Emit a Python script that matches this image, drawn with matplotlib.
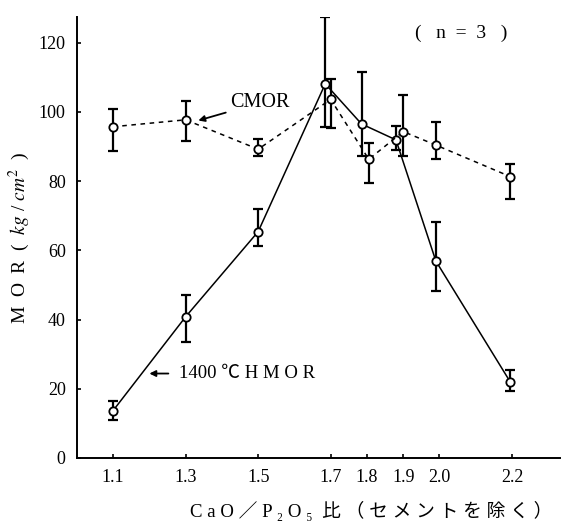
import matplotlib
matplotlib.use("Agg")
import matplotlib.pyplot as plt

# Datos
ticks_x = [1.1, 1.3, 1.5, 1.7, 1.8, 1.9, 2.0, 2.2]
tick_labels_x = ["1.1", "1.3", "1.5", "1.7", "1.8", "1.9", "2.0", "2.2"]
ticks_y = [0, 20, 40, 60, 80, 100, 120]

# 1400℃ HMOR (línea continua)
hmor_x = [1.1, 1.3, 1.5, 1.685, 1.785, 1.88, 1.99, 2.195]
hmor_y = [13.7, 40.8, 65.4, 108.1, 96.5, 91.9, 56.9, 22.0]
hmor_lo = [11.0, 33.6, 61.1, 95.7, 87.1, 89.0, 48.1, 19.3]
hmor_hi = [16.5, 47.1, 71.9, 127.3, 111.6, 95.9, 68.3, 25.5]

# CMOR (línea discontinua)
cmor_x = [1.1, 1.3, 1.5, 1.70, 1.805, 1.90, 1.99, 2.195]
cmor_y = [95.7, 97.7, 89.2, 103.6, 86.3, 94.3, 90.4, 81.3]
cmor_lo = [88.7, 91.7, 87.1, 95.3, 79.4, 87.1, 86.4, 74.7]
cmor_hi = [100.8, 103.1, 92.1, 109.4, 90.9, 104.9, 97.0, 84.9]

serif = ["Liberation Serif", "Noto Sans CJK JP", "DejaVu Sans"]
plt.rcParams["mathtext.fontset"] = "stix"

fig = plt.figure(figsize=(5.61, 5.23), dpi=100)
ax = fig.add_axes([0.137, 0.1243, 0.861, 0.8432])


def errores(y, lo, hi):
    return [[v - l for v, l in zip(y, lo)], [h - v for v, h in zip(y, hi)]]


# Barras de error
ax.errorbar(hmor_x, hmor_y, yerr=errores(hmor_y, hmor_lo, hmor_hi), fmt="none",
            ecolor="black", elinewidth=1.6, capsize=3.5, capthick=1.6, zorder=2)
ax.errorbar(cmor_x, cmor_y, yerr=errores(cmor_y, cmor_lo, cmor_hi), fmt="none",
            ecolor="black", elinewidth=1.6, capsize=3.5, capthick=1.6, zorder=2)

# Curvas
ax.plot(hmor_x, hmor_y, color="black", lw=1.1, marker="o", ms=6,
        mfc="white", mec="black", mew=1.3, zorder=3)
ax.plot(cmor_x, cmor_y, color="black", lw=1.1, ls=(0, (3, 3)), marker="o", ms=6,
        mfc="white", mec="black", mew=1.3, zorder=3)

# Ejes
ax.set_xlim(1.0, 2.332)
ax.set_ylim(0, 127.4)
ax.set_xticks(ticks_x)
ax.set_xticklabels(tick_labels_x)
ax.set_yticks(ticks_y)
ax.spines["top"].set_visible(False)
ax.spines["right"].set_visible(False)
ax.spines["left"].set_linewidth(1.4)
ax.spines["bottom"].set_linewidth(1.4)
ax.tick_params(direction="in", length=3, width=1.2, labelsize=13, pad=8)
for lab in ax.get_xticklabels() + ax.get_yticklabels():
    lab.set_family(serif)

ax.set_ylabel("M  O  R  (  $\\mathit{kg}$ / $\\mathit{cm^2}$  )", fontsize=14,
              family=serif, labelpad=5)
ax.set_xlabel("C a O ／ P ₂ O ₅  比 （ セ メ ン ト を 除 く ）", fontsize=13.5,
              family=serif, labelpad=11, x=0.61)

# Anotaciones
ax.text(2.06, 122.8, "(   n  =  3   )", fontsize=14, family=serif,
        ha="center", va="center")
ax.annotate("CMOR", xy=(1.335, 97.5), xytext=(1.422, 102.6), fontsize=14.5,
            family=serif, va="center", ha="left",
            arrowprops=dict(arrowstyle="-|>", color="black", lw=1.3,
                            shrinkA=1, shrinkB=0, mutation_scale=9))
ax.annotate("1400 ℃ H M O R", xy=(1.2, 24.4), xytext=(1.283, 24.4), fontsize=13.5,
            family=serif, va="center", ha="left",
            arrowprops=dict(arrowstyle="-|>", color="black", lw=1.3,
                            shrinkA=6, shrinkB=0, mutation_scale=9))

fig.savefig("out.png", dpi=100)
